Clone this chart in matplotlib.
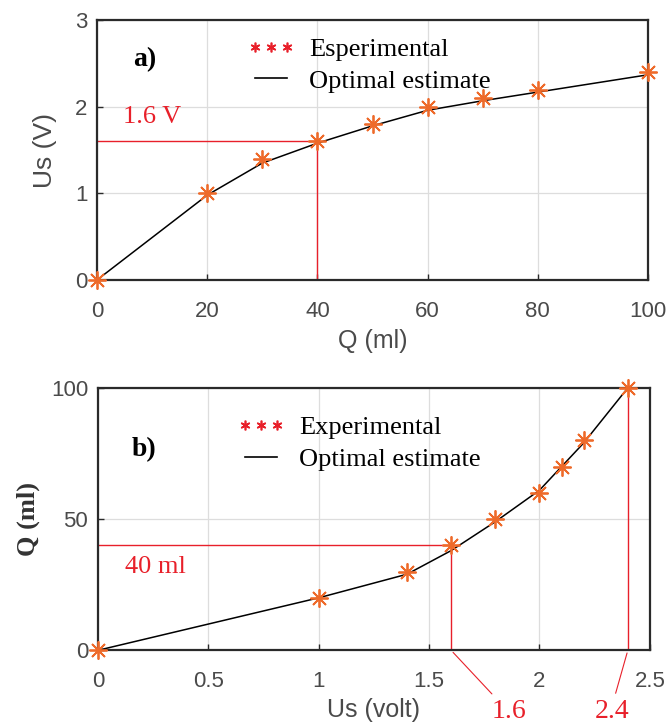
import matplotlib
matplotlib.use("Agg")
import matplotlib.pyplot as plt
from matplotlib.lines import Line2D

# panel a) : Q (ml) -> Us (V)
q_ml = [0, 20, 30, 40, 50, 60, 70, 80, 100]
us_exp = [0, 1.0, 1.4, 1.6, 1.8, 2.0, 2.1, 2.2, 2.4]
us_fit = [0, 0.98, 1.35, 1.58, 1.78, 1.96, 2.07, 2.17, 2.37]

# panel b) : Us (volt) -> Q (ml)
us_v = [0, 1.0, 1.4, 1.6, 1.8, 2.0, 2.1, 2.2, 2.4]
q_exp = [0, 20, 30, 40, 50, 60, 70, 80, 100]
q_fit = [0, 20, 29, 38, 49, 61, 70, 79, 100]

a_xticks = [0, 20, 40, 60, 80, 100]
a_yticks = [0, 1, 2, 3]
b_xticks = [0, 0.5, 1, 1.5, 2, 2.5]
b_xlabels = ["0", "0.5", "1", "1.5", "2", "2.5"]
b_yticks = [0, 50, 100]

ORANGE = "#ee6a2a"
RED = "#e8202a"
GREY = "#4a4a4a"
SANS = "Liberation Sans"
SERIF = "Liberation Serif"
ast = (8, 2, 0)

fig = plt.figure(figsize=(6.7, 7.25), dpi=100)
ax1 = fig.add_axes([0.145, 0.614, 0.822, 0.358])
ax2 = fig.add_axes([0.146, 0.103, 0.824, 0.362])


def style(ax):
    ax.grid(True, color="#dddddd", lw=0.9)
    ax.set_axisbelow(True)
    for s in ax.spines.values():
        s.set_color("#2a2a2a")
        s.set_linewidth(1.6)
    ax.tick_params(direction="in", length=4, width=1, colors="#2a2a2a",
                   labelcolor=GREY, labelsize=16)
    ax.tick_params(axis="x", pad=15)
    ax.tick_params(axis="y", pad=7)
    for lbl in ax.get_xticklabels() + ax.get_yticklabels():
        lbl.set_family(SANS)


h_exp = Line2D([], [], ls="none", marker=(6, 2, 0), ms=7, mew=1.2, color=RED)
h_fit = Line2D([], [], color="black", lw=1.2)
leg_kw = dict(loc="upper left", frameon=False, numpoints=3,
              handlelength=1.8, handletextpad=0.55, borderpad=0,
              borderaxespad=0, labelspacing=0.3,
              prop={"family": SERIF, "size": 19})

# ---- a)
ax1.plot(q_ml, us_fit, color="black", lw=1.1, zorder=3)
ax1.plot(q_ml, us_exp, ls="none", marker=ast, ms=13, mew=1.3,
         color=ORANGE, zorder=4, clip_on=False)
ax1.plot([0, 40], [1.6, 1.6], color=RED, lw=1.0, zorder=2)
ax1.plot([40, 40], [0, 1.6], color=RED, lw=1.0, zorder=2)
ax1.text(4.7, 1.88, "1.6 V", color=RED, fontsize=19, family=SERIF,
         va="center")
ax1.text(8.7, 2.54, "a)", fontsize=20, family=SERIF, fontweight="bold",
         ha="center", va="center")
ax1.set_xlim(0, 100)
ax1.set_ylim(0, 3)
ax1.set_xticks(a_xticks)
ax1.set_yticks(a_yticks)
style(ax1)
ax1.set_xlabel("Q (ml)", fontsize=18, family=SANS, color=GREY, labelpad=5)
ax1.set_ylabel("Us (V)", fontsize=19, family=SANS, color=GREY, labelpad=13)
ax1.legend([h_exp, h_fit], ["Esperimental", "Optimal estimate"],
           bbox_to_anchor=(0.272, 0.933), **leg_kw)

# ---- b)
ax2.plot(us_v, q_fit, color="black", lw=1.1, zorder=3)
ax2.plot(us_v, q_exp, ls="none", marker=ast, ms=13, mew=1.3,
         color=ORANGE, zorder=4, clip_on=False)
ax2.plot([0, 1.6], [40, 40], color=RED, lw=1.0, zorder=2)
ax2.plot([1.6, 1.6], [0, 40], color=RED, lw=1.0, zorder=2)
ax2.plot([2.4, 2.4], [0, 100], color=RED, lw=1.0, zorder=2)
ax2.text(0.122, 31.7, "40 ml", color=RED, fontsize=19, family=SERIF,
         va="center")
ax2.text(0.21, 76.3, "b)", fontsize=20, family=SERIF, fontweight="bold",
         ha="center", va="center")
ax2.set_xlim(0, 2.5)
ax2.set_ylim(0, 100)
ax2.set_xticks(b_xticks)
ax2.set_xticklabels(b_xlabels)
ax2.set_yticks(b_yticks)
style(ax2)
ax2.set_xlabel("Us (volt)", fontsize=18, family=SANS, color=GREY, labelpad=4)
ax2.set_ylabel("Q (ml)", fontsize=19, family=SERIF, color="#333333",
               fontweight="bold", labelpad=8)
ax2.legend([h_exp, h_fit], ["Experimental", "Optimal estimate"],
           bbox_to_anchor=(0.252, 0.893), **leg_kw)

# callout labels under the axis
tr = ax2.get_xaxis_transform()
ax2.annotate("1.6", xy=(1.6, 0), xycoords=tr, xytext=(1.86, -0.232),
             textcoords=tr, ha="center", va="center", color=RED,
             fontsize=20, family=SERIF, annotation_clip=False,
             arrowprops=dict(arrowstyle="-", color=RED, lw=0.8,
                             shrinkA=2, shrinkB=2, relpos=(0.15, 1.0)))
ax2.annotate("2.4", xy=(2.4, 0), xycoords=tr, xytext=(2.33, -0.232),
             textcoords=tr, ha="center", va="center", color=RED,
             fontsize=20, family=SERIF, annotation_clip=False,
             arrowprops=dict(arrowstyle="-", color=RED, lw=0.8,
                             shrinkA=2, shrinkB=2, relpos=(0.55, 1.0)))

fig.savefig("out.png", dpi=100)
